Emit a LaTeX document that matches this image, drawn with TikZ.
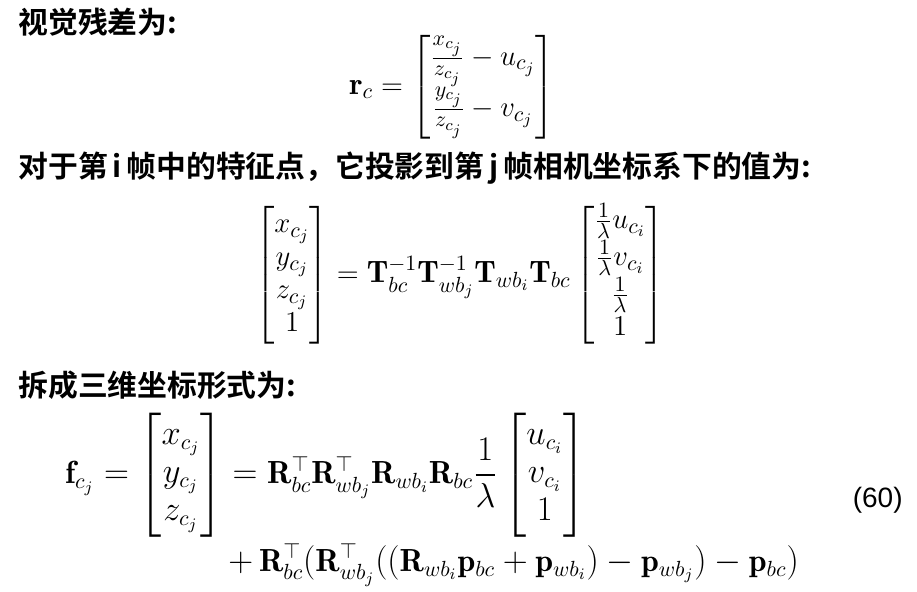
\documentclass[tikz,border=0pt]{standalone}
\usepackage{amsmath}
\usepackage{fontspec}
\newfontfamily\cjk{Noto Sans CJK SC}[UprightFont=* Bold]
\newfontfamily\numf{Liberation Sans}
\begin{document}
\begin{tikzpicture}[x=0.5pt,y=-0.5pt,inner sep=0pt,
  cn/.style={anchor=west,font=\cjk\fontsize{14.9}{17}\selectfont},
  eq/.style={font=\fontsize{15.5}{18.5}\selectfont},
  eqb/.style={font=\fontsize{16}{19}\selectfont}]
\useasboundingbox (0,0) rectangle (917,592);
\node[cn] (t1) at (18,22) {视觉残差为:};
\node[eq] (e1) at (452,87) {$\mathbf{r}_c=\begin{bmatrix}\frac{x_{c_j}}{z_{c_j}}-u_{c_j}\\[0pt]\frac{y_{c_j}}{z_{c_j}}-v_{c_j}\end{bmatrix}$};
\node[cn] (t2) at (18,168) {对于第\,i\,帧中的特征点，它投影到第\,j\,帧相机坐标系下的值为:};
\node[eq] (e2) at (460,275) {$\begin{bmatrix}x_{c_j}\\[-2pt]y_{c_j}\\[-2pt]z_{c_j}\\[-2pt]1\end{bmatrix}=\mathbf{T}_{bc}^{-1}\mathbf{T}_{wb_j}^{-1}\mathbf{T}_{wb_i}\mathbf{T}_{bc}\begin{bmatrix}\frac{1}{\lambda}u_{c_i}\\[0pt]\frac{1}{\lambda}v_{c_i}\\[0pt]\frac{1}{\lambda}\\[-2pt]1\end{bmatrix}$};
\node[cn] (t3) at (18,385) {拆成三维坐标形式为:};
\node[eqb,anchor=west] (e3) at (65,475) {$\mathbf{f}_{c_j}=\begin{bmatrix}x_{c_j}\\y_{c_j}\\z_{c_j}\end{bmatrix}=\mathbf{R}_{bc}^{\top}\mathbf{R}_{wb_j}^{\top}\mathbf{R}_{wb_i}\mathbf{R}_{bc}\dfrac{1}{\lambda}\begin{bmatrix}u_{c_i}\\v_{c_i}\\1\end{bmatrix}$};
\node[eqb,anchor=west] (e4) at (228,565) {$+\,\mathbf{R}_{bc}^{\top}(\mathbf{R}_{wb_j}^{\top}((\mathbf{R}_{wb_i}\mathbf{p}_{bc}+\mathbf{p}_{wb_i})-\mathbf{p}_{wb_j})-\mathbf{p}_{bc})$};
\node[font=\numf\fontsize{14}{16}\selectfont,anchor=east] (n) at (903,500) {(60)};
\end{tikzpicture}
\end{document}
